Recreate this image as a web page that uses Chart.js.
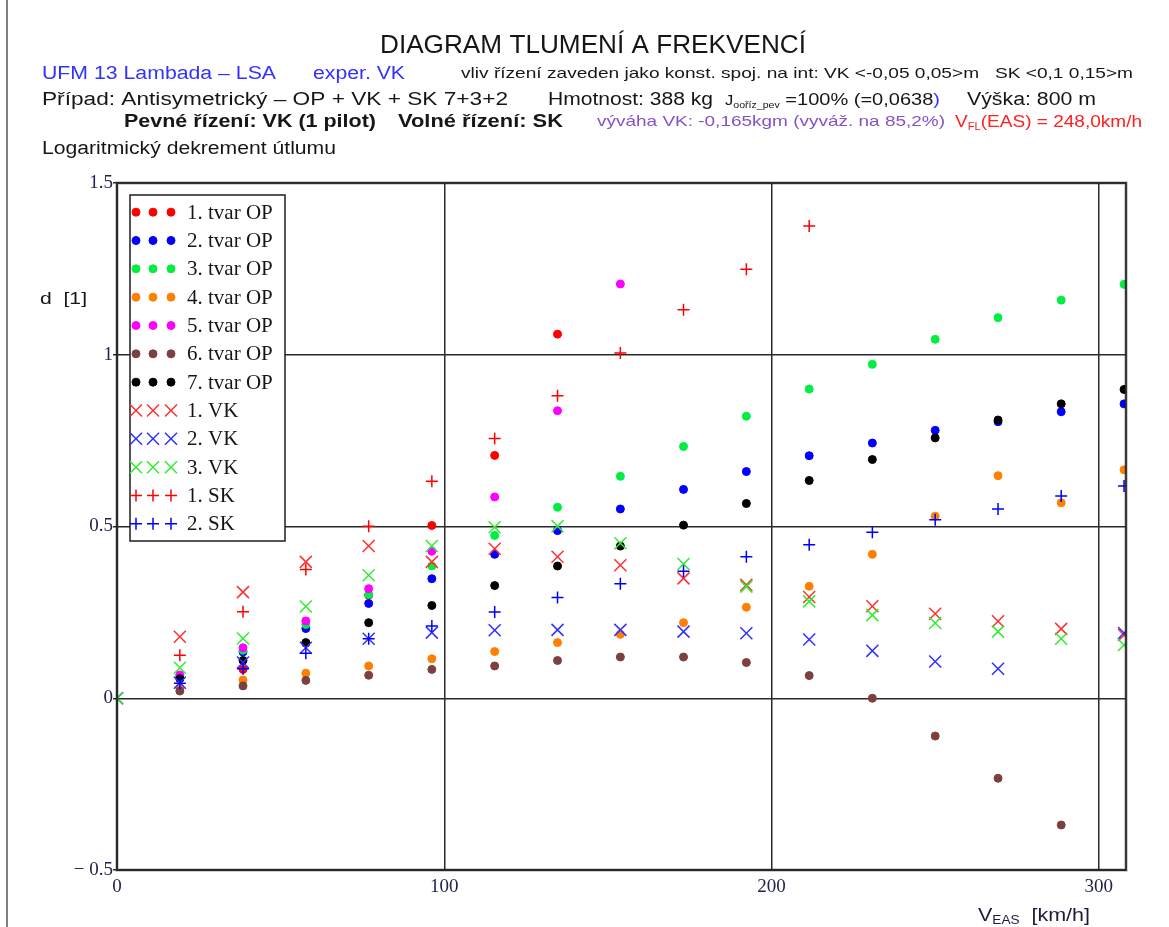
<!DOCTYPE html>
<html lang="cs">
<head>
<meta charset="utf-8">
<title>Diagram tlumení a frekvencí</title>
<script src="https://cdn.jsdelivr.net/npm/chart.js@4/dist/chart.umd.min.js"></script>
<style>
    html, body { margin: 0; padding: 0; background: #fff; }
    #wrap { position: relative; width: 1169px; height: 927px; overflow: hidden; }
    #dekrement { display: block; }
</style>
</head>
<body>
<div id="wrap"><canvas id="dekrement" width="1169" height="927"></canvas></div>
<script>
// rychlosti V_EAS [km/h]
var speeds = [0, 19.2, 38.5, 57.7, 76.9, 96.2, 115.4, 134.6, 153.8, 173.1, 192.3, 211.5, 230.8, 250.0, 269.2, 288.5, 307.7];

// logaritmický dekrement d [1], tvary OP
var tvar1 = [null, 0.06, 0.084, 0.16, 0.30, 0.503, 0.707, 1.06, null, null, null, null, null, null, null, null, null];
var tvar2 = [null, 0.06, 0.135, 0.203, 0.276, 0.348, 0.419, 0.488, 0.551, 0.608, 0.660, 0.706, 0.743, 0.780, 0.805, 0.834, 0.857];
var tvar3 = [null, 0.065, 0.14, 0.215, 0.302, 0.385, 0.474, 0.556, 0.646, 0.733, 0.821, 0.900, 0.972, 1.045, 1.108, 1.159, 1.205];
var tvar4 = [null, 0.03, 0.053, 0.073, 0.094, 0.115, 0.136, 0.162, 0.186, 0.220, 0.265, 0.326, 0.419, 0.530, 0.648, 0.569, 0.665];
var tvar5 = [null, 0.068, 0.147, 0.225, 0.319, 0.428, 0.586, 0.837, 1.206, null, null, null, null, null, null, null, null];
var tvar6 = [null, 0.021, 0.036, 0.052, 0.067, 0.084, 0.094, 0.110, 0.120, 0.120, 0.104, 0.066, 0.0, -0.110, -0.233, -0.369, null];
var tvar7 = [null, 0.057, 0.110, 0.162, 0.220, 0.270, 0.328, 0.385, 0.443, 0.504, 0.567, 0.634, 0.695, 0.758, 0.810, 0.857, 0.899];

// výškové kormidlo (VK)
var vk1 = [0, 0.179, 0.309, 0.397, 0.443, 0.397, 0.435, 0.412, 0.387, 0.349, 0.33, 0.295, 0.268, 0.246, 0.224, 0.202, 0.184];
var vk2 = [0, 0.045, 0.104, 0.147, 0.173, 0.191, 0.198, 0.199, 0.199, 0.194, 0.189, 0.171, 0.138, 0.107, 0.086, null, 0.19];
var vk3 = [0, 0.089, 0.174, 0.267, 0.358, 0.443, 0.498, 0.501, 0.451, 0.391, 0.325, 0.282, 0.242, 0.219, 0.194, 0.173, 0.155];

// směrové kormidlo (SK)
var sk1 = [null, 0.125, 0.252, 0.375, 0.501, 0.632, 0.756, 0.881, 1.005, 1.131, 1.249, 1.375, null, null, null, null, null];
var sk2 = [null, 0.044, 0.086, 0.131, 0.173, 0.210, 0.251, 0.293, 0.333, 0.370, 0.412, 0.447, 0.483, 0.520, 0.551, 0.589, 0.618];

var xTicks = [0, 100, 200, 300];
var yTickLabels = { '-0.5': '\u2212 0.5', '0': '0', '0.5': '0.5', '1': '1', '1.5': '1.5' };

(function (window, document) {
    'use strict';

    var BLUE = '#3232ff';
    var PURPLE = '#8552c6';
    var RED = '#ff2020';
    var INK = '#161616';
    var TICK_INK = '#22224e';

    function points(values) {
        var out = [];
        speeds.forEach(function (v, i) {
            if (values[i] !== null && typeof values[i] !== 'undefined') {
                out.push({ x: v, y: values[i] });
            }
        });
        return out;
    }

    function series(label, values, color, style, radius, width) {
        return {
            label: label,
            data: points(values),
            showLine: false,
            pointStyle: style,
            pointRadius: radius,
            pointHoverRadius: radius,
            pointBorderWidth: width,
            backgroundColor: color,
            borderColor: color
        };
    }

    var datasets = [
        series('1. tvar OP', tvar1, '#ff0000', 'circle', 4, 1),
        series('2. tvar OP', tvar2, '#0000ff', 'circle', 4, 1),
        series('3. tvar OP', tvar3, '#00ee44', 'circle', 4, 1),
        series('4. tvar OP', tvar4, '#ff8000', 'circle', 4, 1),
        series('5. tvar OP', tvar5, '#ff00ff', 'circle', 4, 1),
        series('6. tvar OP', tvar6, '#7c4040', 'circle', 4, 1),
        series('7. tvar OP', tvar7, '#000000', 'circle', 4, 1),
        series('1. VK', vk1, '#ff3030', 'crossRot', 8.5, 1.5),
        series('2. VK', vk2, '#3030ff', 'crossRot', 8.5, 1.5),
        series('3. VK', vk3, '#30ee30', 'crossRot', 8.5, 1.5),
        series('1. SK', sk1, '#ff0000', 'cross', 6, 1.5),
        series('2. SK', sk2, '#0000ff', 'cross', 6, 1.5)
    ];

    // later series are painted on top of earlier ones
    datasets.forEach(function (ds, i) {
        ds.order = -i;
    });

    // header and axis captions, drawn as runs of text squeezed to a width
    var captions = [
        { x: 380, y: 53, w: 426, runs: [{ t: 'DIAGRAM TLUMENÍ A FREKVENCÍ', size: 25 }] },
        { x: 42, y: 79, w: 234, runs: [{ t: 'UFM 13 Lambada – LSA', size: 18 }], color: BLUE },
        { x: 313, y: 79, w: 92, runs: [{ t: 'exper. VK', size: 18, color: BLUE }] },
        { x: 461, y: 78, w: 672, runs: [{ t: 'vliv řízení zaveden jako konst. spoj. na int: VK <-0,05 0,05>m   SK <0,1 0,15>m', size: 15 }] },
        { x: 42, y: 105, w: 466, runs: [{ t: 'Případ: Antisymetrický – OP + VK + SK 7+3+2', size: 18 }] },
        { x: 548, y: 105, w: 165, runs: [{ t: 'Hmotnost: 388 kg', size: 18 }] },
        { x: 725, y: 105, w: 215, runs: [
            { t: 'J', size: 14 },
            { t: 'ooříz_pev', size: 9, dy: 3 },
            { t: ' =100% (=0,0638', size: 17 },
            { t: ')', size: 17, color: BLUE }
        ] },
        { x: 967, y: 105, w: 129, runs: [{ t: 'Výška: 800 m', size: 18 }] },
        { x: 124, y: 127, w: 252, runs: [{ t: 'Pevné řízení: VK (1 pilot)', size: 18, bold: true }] },
        { x: 398, y: 127, w: 165, runs: [{ t: 'Volné řízení: SK', size: 18, bold: true }] },
        { x: 597, y: 126, w: 348, runs: [{ t: 'výváha VK: -0,165kgm (vyváž. na 85,2%)', size: 15, color: PURPLE }] },
        { x: 955, y: 127, w: 187, runs: [
            { t: 'V', size: 17, color: RED },
            { t: 'FL', size: 10, dy: 3, color: RED },
            { t: '(EAS) = 248,0km/h', size: 17, color: RED }
        ] },
        { x: 42, y: 154, w: 294, runs: [{ t: 'Logaritmický dekrement útlumu', size: 18 }] },
        { x: 40, y: 304, w: 47, runs: [{ t: 'd  [1]', size: 17 }] },
        { x: 978, y: 921, w: 112, runs: [
            { t: 'V', size: 19, color: '#1c1c3c' },
            { t: 'EAS', size: 12, dy: 3, color: '#1c1c3c' },
            { t: '  [km/h]', size: 19, color: '#1c1c3c' }
        ] }
    ];

    function runFont(r) {
        return (r.bold ? 'bold ' : '') + r.size + 'px "Liberation Sans", Arial, sans-serif';
    }

    function drawCaption(ctx, item) {
        var natural = 0;
        item.runs.forEach(function (r) {
            ctx.font = runFont(r);
            natural += ctx.measureText(r.t).width;
        });
        var k = item.w ? item.w / natural : 1;
        var cx = 0;

        ctx.save();
        ctx.translate(item.x, item.y);
        ctx.scale(k, 1);
        ctx.textAlign = 'left';
        ctx.textBaseline = 'alphabetic';
        item.runs.forEach(function (r) {
            ctx.font = runFont(r);
            ctx.fillStyle = r.color || item.color || INK;
            ctx.fillText(r.t, cx, r.dy || 0);
            cx += ctx.measureText(r.t).width;
        });
        ctx.restore();
    }

    var captionPlugin = {
        id: 'captions',
        afterDraw: function (chart) {
            var ctx = chart.ctx;
            ctx.save();
            ctx.strokeStyle = '#555';
            ctx.lineWidth = 1.5;
            ctx.beginPath();
            ctx.moveTo(7, 0);
            ctx.lineTo(7, chart.height);
            ctx.stroke();
            ctx.restore();
            captions.forEach(function (item) {
                drawCaption(ctx, item);
            });
        }
    };

    var framePlugin = {
        id: 'plotFrame',
        afterDatasetsDraw: function (chart) {
            var a = chart.chartArea;
            var ctx = chart.ctx;
            ctx.save();
            ctx.strokeStyle = 'rgba(0,0,0,0.25)';
            ctx.lineWidth = 3.5;
            ctx.strokeRect(a.left, a.top, a.right - a.left, a.bottom - a.top);
            ctx.strokeStyle = '#2a2a2a';
            ctx.lineWidth = 1.8;
            ctx.strokeRect(a.left, a.top, a.right - a.left, a.bottom - a.top);
            ctx.restore();
        }
    };

    // legend box with three repeated markers per row
    var legendPlugin = {
        id: 'markerLegend',
        afterDatasetsDraw: function (chart) {
            var ctx = chart.ctx;
            var left = 130, top = 195, width = 155, height = 346;
            var row = (height - 6) / chart.data.datasets.length;

            ctx.save();
            ctx.fillStyle = '#fff';
            ctx.fillRect(left, top, width, height);
            ctx.strokeStyle = '#1e1e1e';
            ctx.lineWidth = 1.5;
            ctx.strokeRect(left, top, width, height);

            chart.data.datasets.forEach(function (ds, i) {
                var cy = top + 3 + row * (i + 0.5);
                [136, 153, 171].forEach(function (mx) {
                    ctx.fillStyle = ds.backgroundColor;
                    ctx.strokeStyle = ds.borderColor;
                    ctx.lineWidth = ds.pointBorderWidth;
                    Chart.helpers.drawPoint(ctx, {
                        pointStyle: ds.pointStyle,
                        radius: ds.pointRadius,
                        rotation: 0,
                        borderWidth: ds.pointBorderWidth
                    }, mx, cy);
                });
                ctx.fillStyle = INK;
                ctx.font = '21px "Liberation Serif", "Times New Roman", serif';
                ctx.textAlign = 'left';
                ctx.textBaseline = 'middle';
                ctx.fillText(ds.label, 187, cy + 1);
            });
            ctx.restore();
        }
    };

    function init() {
        if (typeof Chart === 'undefined') {
            return;
        }

        var tickFont = { family: '"Liberation Serif", "Times New Roman", serif', size: 19 };

        new Chart(document.getElementById('dekrement'), {
            type: 'scatter',
            data: { datasets: datasets },
            options: {
                responsive: false,
                animation: false,
                events: [],
                layout: { padding: { left: 0, top: 183, right: 43, bottom: 0 } },
                plugins: {
                    legend: { display: false },
                    tooltip: { enabled: false },
                    title: { display: false }
                },
                scales: {
                    x: {
                        type: 'linear',
                        min: 0,
                        max: 308.3,
                        afterBuildTicks: function (scale) {
                            scale.ticks = xTicks.map(function (v) { return { value: v }; });
                        },
                        afterFit: function (scale) {
                            scale.height = 57;
                        },
                        grid: { color: '#2a2a2a', lineWidth: 1.5, drawTicks: false },
                        border: { display: true, color: '#2a2a2a', width: 1.8 },
                        ticks: {
                            color: TICK_INK,
                            font: tickFont,
                            padding: 6,
                            maxRotation: 0,
                            callback: function (value) { return String(value); }
                        }
                    },
                    y: {
                        type: 'linear',
                        min: -0.5,
                        max: 1.5,
                        afterFit: function (scale) {
                            scale.width = 117;
                        },
                        grid: { color: '#2a2a2a', lineWidth: 1.5, tickLength: 4 },
                        border: { display: true, color: '#2a2a2a', width: 1.8 },
                        ticks: {
                            stepSize: 0.5,
                            color: TICK_INK,
                            font: tickFont,
                            padding: 0,
                            callback: function (value) {
                                var key = String(Math.round(value * 10) / 10);
                                return yTickLabels[key] || key;
                            }
                        }
                    }
                }
            },
            plugins: [framePlugin, legendPlugin, captionPlugin]
        });
    }

    if (document.readyState === 'loading') {
        document.addEventListener('DOMContentLoaded', init);
    } else {
        init();
    }
})(window, document);
</script>
</body>
</html>
